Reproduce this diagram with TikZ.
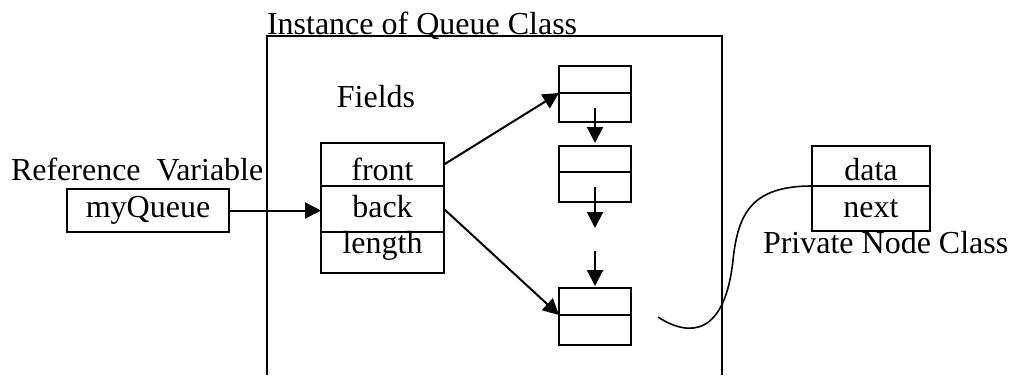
\documentclass[tikz,border=0pt]{standalone}
\usepackage{fontspec}
\setmainfont{Liberation Serif}
\usetikzlibrary{arrows.meta,positioning}

\begin{document}
\begin{tikzpicture}
	[x=1pt, y=-1pt, line width=2pt,
	font=\fontsize{32}{38}\selectfont,
	cell/.style={rectangle,draw,outer sep=0pt,inner sep=0pt,minimum width=#1},
	cell/.default=72pt,
	caption/.style={inner sep=0pt},
	link/.style={-{Triangle[length=16pt,width=16pt]}}]
	\useasboundingbox (0,0) rectangle (1009,375);
	% the queue object
	\draw (267,375) -- (267,36) -- (722,36) -- (722,375);
	\node (title) [caption,anchor=base west] at (266,34) {Instance of Queue Class};
	\node (fields) [caption,anchor=base] at (376,107) {Fields};
	\node (front) [cell=123pt, minimum height=43pt, text height=32pt, text depth=0pt] at (382.5,164.5) {front};
	\node (back) [cell=123pt, minimum height=46pt, text depth=6pt, below=0pt of front] {back};
	\node (length) [cell=123pt, minimum height=41pt, text height=21pt, text depth=19pt, below=0pt of back] {length};
	% reference variable
	\node (refvar) [caption,anchor=base west] at (10,180) {Reference\ \ Variable};
	\node (myQueue) [cell=162pt, minimum height=43pt] at (148,210.5) {myQueue};
	\draw [link] (myQueue.east) -- (myQueue.east -| back.west);
	% linked nodes
	\node (n1top) [cell, minimum height=27pt] at (595,79.5) {};
	\node (n1bot) [cell, minimum height=29pt, below=0pt of n1top] {};
	\node (n2top) [cell, minimum height=26pt] at (595,159) {};
	\node (n2bot) [cell, minimum height=30pt, below=0pt of n2top] {};
	\node (n3top) [cell, minimum height=27pt] at (595,301.5) {};
	\node (n3bot) [cell, minimum height=30pt, below=0pt of n3top] {};
	\coordinate (gap1) at (595,228);
	\coordinate (gap2) at (595,251);
	\draw [link] (front.east) -- (n1bot.north west);
	\draw [link] (back.east) -- (n3bot.north west);
	\draw [link, shorten >=3pt] (n1bot.center) -- (n2top.north);
	\draw [link] (n2bot.center) -- (gap1);
	\draw [link, shorten >=2pt] (gap2) -- (n3top.north);
	% private node class
	\node (data) [cell=118pt, minimum height=40pt, text height=28pt, text depth=0pt] at (871,166) {data};
	\node (next) [cell=118pt, minimum height=45pt, text height=17.6pt, text depth=0pt, below=0pt of data] {next};
	\node (nodeclass) [caption,anchor=base west] at (762,253) {Private Node Class};
	\coordinate (tail) at (658,317);
	\draw [line width=1.6pt] (tail) .. controls (690,338) and (725,335) .. (733,260)
		.. controls (738,213) and (752,186) .. (data.south west);
\end{tikzpicture}
\end{document}
